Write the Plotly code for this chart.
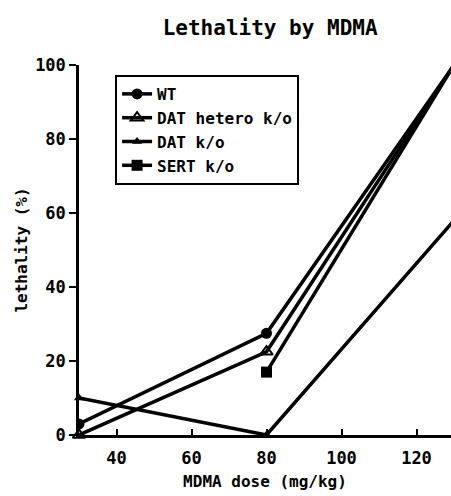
import plotly.graph_objects as go

doses_wt = [30, 80, 130]
wt = [3, 27.5, 100]
doses_het = [30, 80, 130]
dat_het = [0, 22.5, 100]
doses_ko = [30, 80, 130]
dat_ko = [10, 0, 58]
doses_sert = [80, 130]
sert_ko = [17, 100]

x_ticks = [40, 60, 80, 100, 120]
y_ticks = [0, 20, 40, 60, 80, 100]

FONT = "DejaVu Sans Mono"

fig = go.Figure()
line = dict(color="black", width=3.5)
fig.add_trace(go.Scatter(x=doses_wt, y=wt, name="WT", mode="lines+markers",
                         line=line, marker=dict(symbol="circle", size=11, color="black")))
fig.add_trace(go.Scatter(x=doses_het, y=dat_het, name="DAT hetero k/o", mode="lines+markers",
                         line=line, marker=dict(symbol="triangle-up-open", size=11, color="black",
                                                line=dict(width=2, color="black"))))
fig.add_trace(go.Scatter(x=doses_ko, y=dat_ko, name="DAT k/o", mode="lines+markers",
                         line=line, marker=dict(symbol="triangle-up", size=9, color="black")))
fig.add_trace(go.Scatter(x=doses_sert, y=sert_ko, name="SERT k/o", mode="lines+markers",
                         line=line, marker=dict(symbol="square", size=11, color="black")))

fig.update_traces(cliponaxis=True)

fig.update_layout(
    width=451, height=496,
    margin=dict(l=79, r=0, t=65, b=61),
    paper_bgcolor="white", plot_bgcolor="white",
    font=dict(family=FONT, size=17, color="black"),
    title=dict(text="<b>Lethality by MDMA</b>", x=0.599, xref="container", xanchor="center",
               y=0.944, yref="container", yanchor="middle",
               font=dict(family=FONT, size=21, color="black")),
    showlegend=True,
    legend=dict(x=0.097, y=0.973, xanchor="left", yanchor="top",
                bordercolor="black", borderwidth=2, bgcolor="white",
                font=dict(family=FONT, size=16, color="black", weight="bold"),
                tracegroupgap=0, itemwidth=30),
    xaxis=dict(range=[30, 129.2], tickvals=x_ticks, ticks="inside", ticklen=6, tickwidth=2,
               tickcolor="black", showline=True, linecolor="black", linewidth=2.5,
               showgrid=False, zeroline=False, ticklabelstandoff=6,
               tickfont=dict(family=FONT, size=17, color="black", weight="bold"),
               title=dict(text="<b>MDMA dose (mg/kg)</b>", standoff=9,
                          font=dict(family=FONT, size=16, color="black"))),
    yaxis=dict(range=[0, 100], tickvals=y_ticks, ticks="outside", ticklen=7, tickwidth=2,
               tickcolor="black", showline=True, linecolor="black", linewidth=2.5,
               showgrid=False, zeroline=False,
               tickfont=dict(family=FONT, size=17, color="black", weight="bold"),
               title=dict(text="<b>lethality (%)</b>", standoff=4,
                          font=dict(family=FONT, size=16, color="black"))),
)
fig.update_traces(cliponaxis=False, selector=dict(name="DAT hetero k/o"))
fig.update_traces(cliponaxis=False, selector=dict(name="DAT k/o"))

fig.write_html("out.html",
               config={"displayModeBar": False},
               post_script="document.body.style.margin='0';document.body.style.overflow='hidden';")
